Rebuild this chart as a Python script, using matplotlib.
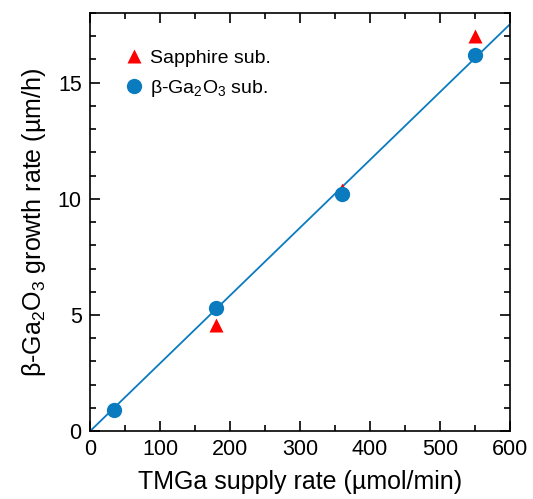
import numpy as np
import matplotlib.pyplot as plt
from matplotlib.ticker import MultipleLocator

plt.rcParams['font.family'] = ['Liberation Sans', 'DejaVu Sans']
plt.rcParams['mathtext.fontset'] = 'custom'
plt.rcParams['mathtext.rm'] = 'Liberation Sans'

# data
sapphire_x = [180, 360, 550]
sapphire_y = [4.55, 10.4, 17.0]
ga2o3_x = [34, 180, 360, 550]
ga2o3_y = [0.9, 5.3, 10.2, 16.2]
fit_slope = 0.0292
fit_x = [0, 600]

blue = '#0a7bbf'
red = '#ff0000'

fig = plt.figure(figsize=(5.33, 4.99), dpi=100)
ax = fig.add_axes([0.169, 0.136, 0.788, 0.838])

ax.plot(fit_x, [fit_slope * x for x in fit_x], color=blue, lw=1.3, zorder=1)
ax.plot(sapphire_x, sapphire_y, ls='none', marker='^', ms=10, color=red,
        mec='none', label='Sapphire sub.', zorder=2)
ax.plot(ga2o3_x, ga2o3_y, ls='none', marker='o', ms=11, color=blue,
        mec='none', label=r'β-Ga$_2$O$_3$ sub.', zorder=3)

ax.set_xlim(0, 600)
ax.set_ylim(0, 18)
ax.xaxis.set_major_locator(MultipleLocator(100))
ax.xaxis.set_minor_locator(MultipleLocator(50))
ax.yaxis.set_major_locator(MultipleLocator(5))
ax.yaxis.set_minor_locator(MultipleLocator(1))
ax.tick_params(which='both', direction='in', top=True, right=True,
               labelsize=15.5, width=1.2, pad=6)
ax.tick_params(which='major', length=7)
ax.tick_params(which='minor', length=4)
for s in ax.spines.values():
    s.set_linewidth(1.2)

ax.set_xlabel('TMGa supply rate (µmol/min)', fontsize=18, labelpad=7)
ax.set_ylabel(r'β-Ga$_2$O$_3$ growth rate (µm/h)', fontsize=18, labelpad=7)

ax.legend(loc='upper left', bbox_to_anchor=(0.03, 0.955), frameon=False,
          fontsize=14, handletextpad=0.15, handlelength=1.4, labelspacing=0.55)

fig.savefig('out.png', dpi=100)
